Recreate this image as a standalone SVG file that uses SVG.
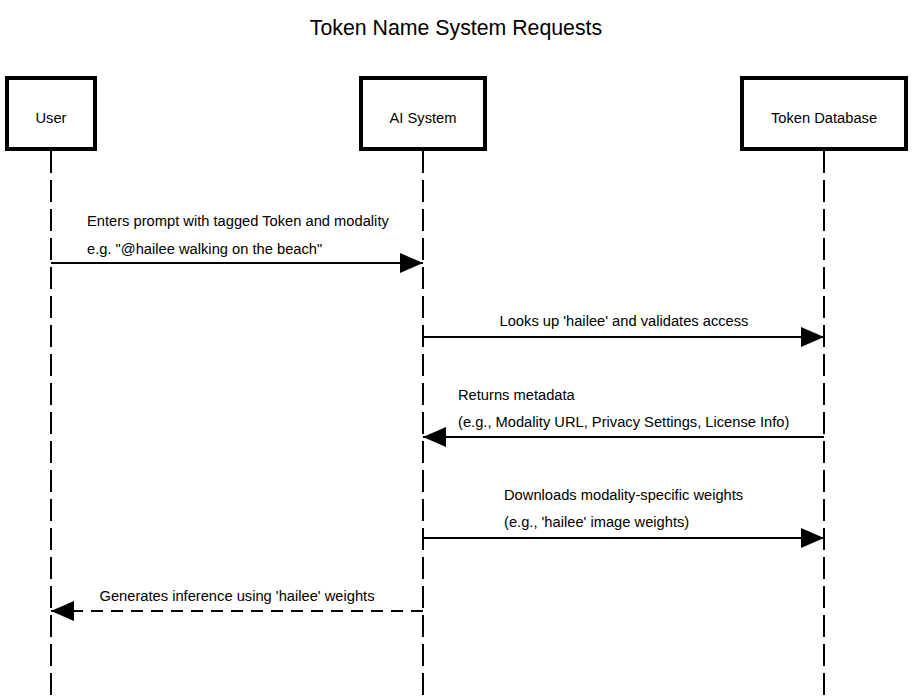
<svg xmlns="http://www.w3.org/2000/svg" width="916" height="700" viewBox="0 0 916 700">
<defs>
<style>
text{font-family:"Liberation Sans",Arial,sans-serif;font-size:14.7px;fill:#000}
.title{font-size:21.3px}
.box{fill:#fff;stroke:#000;stroke-width:4}
.life{stroke:#000;stroke-width:2;stroke-dasharray:22,7;fill:none}
.msg{stroke:#000;stroke-width:2;fill:none}
.dash{stroke-dasharray:12,8}
</style>
<marker id="ah" viewBox="0 0 23 20" refX="23" refY="10" markerWidth="23" markerHeight="20" markerUnits="userSpaceOnUse" orient="auto">
<path d="M0,0 L23,10 L0,20 Z" fill="#000"/>
</marker>
</defs>
<rect width="916" height="700" fill="#fff"/>
<text class="title" x="456" y="35" text-anchor="middle">Token Name System Requests</text>
<g id="lifelines">
<line class="life" x1="51" y1="151" x2="51" y2="700"/>
<line class="life" x1="423" y1="151" x2="423" y2="700"/>
<line class="life" x1="824" y1="151" x2="824" y2="700"/>
</g>
<g id="user">
<rect class="box" x="7" y="78" width="88" height="71"/>
<text x="51" y="123" text-anchor="middle">User</text>
</g>
<g id="ai">
<rect class="box" x="361" y="78" width="124" height="71"/>
<text x="423" y="123" text-anchor="middle">AI System</text>
</g>
<g id="db">
<rect class="box" x="742" y="78" width="164" height="71"/>
<text x="824" y="123" text-anchor="middle">Token Database</text>
</g>
<g id="connectors">
<line class="msg" x1="51" y1="263" x2="423" y2="263" marker-end="url(#ah)"/>
<text x="87" y="226">Enters prompt with tagged Token and modality</text>
<text x="87" y="254">e.g. "@hailee walking on the beach"</text>
<line class="msg" x1="423" y1="337" x2="824" y2="337" marker-end="url(#ah)"/>
<text x="624" y="326" text-anchor="middle">Looks up 'hailee' and validates access</text>
<line class="msg" x1="824" y1="437" x2="423" y2="437" marker-end="url(#ah)"/>
<text x="458" y="400">Returns metadata</text>
<text x="458" y="427">(e.g., Modality URL, Privacy Settings, License Info)</text>
<line class="msg" x1="423" y1="538" x2="824" y2="538" marker-end="url(#ah)"/>
<text x="504" y="500">Downloads modality-specific weights</text>
<text x="504" y="527">(e.g., 'hailee' image weights)</text>
<line class="msg dash" x1="423" y1="611" x2="51" y2="611" marker-end="url(#ah)"/>
<text x="237" y="601" text-anchor="middle">Generates inference using 'hailee' weights</text>
</g>
</svg>
